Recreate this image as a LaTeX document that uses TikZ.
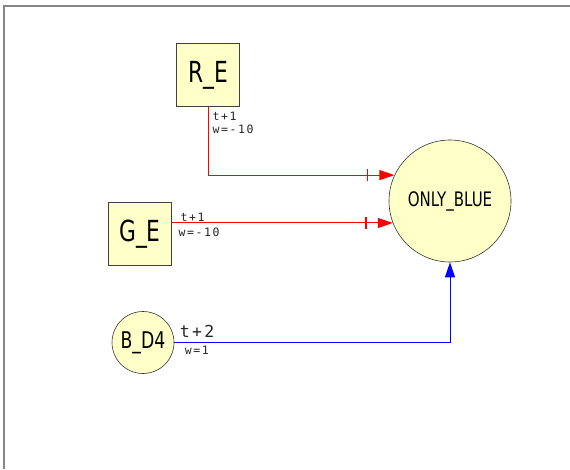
\documentclass[tikz,border=0pt]{standalone}
\usepackage{tikz}
\usetikzlibrary{positioning,arrows.meta,decorations.markings}
\usepackage{fontspec}
\newfontfamily\nodefont{DejaVu Sans}[FakeStretch=0.75]
\newfontfamily\lblfont{DejaVu Sans Mono}[LetterSpace=14]
\definecolor{nodefill}{RGB}{255,255,200}
\definecolor{inhred}{RGB}{255,0,0}
\definecolor{actblue}{RGB}{0,0,255}
\definecolor{framegray}{RGB}{135,135,135}

\begin{document}
\begin{tikzpicture}[x=1pt, y=-1pt,
	gene/.style={rectangle, draw=black!75, line width=1pt, fill=nodefill,
		minimum size=63pt, inner sep=0pt, font=\nodefont\fontsize{29}{34}\selectfont},
	state/.style={circle, draw=black!80, line width=0.6pt, fill=nodefill, inner sep=0pt},
	lbl/.style={inner sep=1pt, text=black!85, font=\lblfont\fontsize{11.5}{13}\selectfont, align=left},
	inhib/.style={draw=inhred, line width=1pt, -{Triangle[length=15pt,width=10pt]},
		decoration={markings, mark=at position -27pt with
			{\draw[-, draw=inhred, line width=1.8pt] (0,-6pt) -- (0,6pt);}},
		postaction={decorate}},
	activ/.style={draw=actblue, line width=1pt, -{Triangle[length=15pt,width=10pt]}}
	]
	\useasboundingbox (0,0) rectangle (570,469);
	\draw[framegray, line width=1.5pt] (4,469) -- (4,6) -- (570,6);

	\node[gene] (re) at (208,75) {R\_E};
	\node[gene] (ge) at (140,234) {G\_E};
	\node[state, minimum size=62pt, font=\nodefont\fontsize{23}{27}\selectfont] (bd) at (143,342.5) {B\_D4};
	\node[state, minimum size=122pt, font=\nodefont\fontsize{20}{23}\selectfont] (ob) at (450,201) {ONLY\_BLUE};

	\draw[inhib] (re.south) |- (ob.155.3)
		node[lbl, at start, anchor=north west, xshift=3pt, yshift=-4pt] {t+1\\w=-10};
	\draw[inhib] (ge.east |- ob.201) -- (ob.201)
		node[lbl, at start, anchor=south west, xshift=7pt] {t+1}
		node[lbl, at start, anchor=north west, xshift=5pt, yshift=-3pt] {w=-10};
	\draw[activ] (bd.east |- 0,342) -| (ob.south)
		node[lbl, at start, anchor=south west, xshift=4pt, yshift=3pt, font=\lblfont\fontsize{16.5}{19}\selectfont] {t+2}
		node[lbl, at start, anchor=north west, xshift=9pt, yshift=-3pt] {w=1};
\end{tikzpicture}
\end{document}
